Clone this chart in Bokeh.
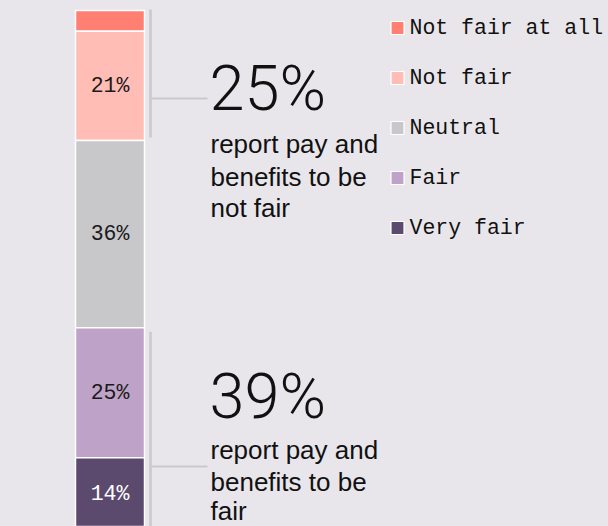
from bokeh.plotting import figure
from bokeh.models import Range1d, ColumnDataSource, GlobalInlineStyleSheet
from bokeh.core.properties import value
from bokeh.embed import file_html
from bokeh.resources import INLINE

# ---- data ----
categories = ["Not fair at all", "Not fair", "Neutral", "Fair", "Very fair"]
shares = [4, 21, 36, 25, 14]
colors = ["#ff7f72", "#ffbdb6", "#c8c8ca", "#bfa2c7", "#5b4a6e"]
label_colors = ["#1a1a1a", "#1a1a1a", "#1a1a1a", "#1a1a1a", "#ffffff"]
min_label_share = 10
group_text = ["report pay and", "benefits to be", "not fair"]
group_text2 = ["report pay and", "benefits to be", "fair"]

BG = "#e8e6eb"
MONO = value("Liberation Mono")
SANS = value("Liberation Sans")
BIG = value("Roboto Light, Roboto, Liberation Sans")

W, H = 608, 526
PX_PER_PCT = 5.2
TOP_PX = 10

# cumulative stacking (top -> bottom)
tops, bottoms = [], []
acc = 0
for s in shares:
    tops.append(acc)
    acc += s
    bottoms.append(acc)
mids = [(t + b) / 2 for t, b in zip(tops, bottoms)]
labels = [f"{s}%" if s >= min_label_share else "" for s in shares]

not_fair_total = shares[0] + shares[1]
fair_total = shares[3] + shares[4]

p = figure(width=W, height=H, output_backend="svg", toolbar_location=None,
           x_range=Range1d(0, W),
           y_range=Range1d((H - TOP_PX) / PX_PER_PCT, -TOP_PX / PX_PER_PCT),
           min_border=0, background_fill_color=BG, border_fill_color=BG,
           outline_line_color=None)
p.axis.visible = False
p.grid.visible = False
p.extra_y_ranges = {"px": Range1d(H, 0)}

src = ColumnDataSource(dict(cat=categories, top=tops, bottom=bottoms, color=colors,
                            mid=mids, label=labels, lcolor=label_colors,
                            x=[109.5] * len(shares)))

p.vbar(x="x", width=69, top="top", bottom="bottom", fill_color="color",
       line_color="white", line_width=1.5, source=src)
p.text(x="x", y="mid", text="label", text_color="lcolor", text_font=MONO,
       text_font_size="21.5px", text_align="center", text_baseline="middle", source=src)

# brackets
LINE = "#c9c9cc"
p.segment(x0=[150, 150], x1=[150, 150],
          y0=[tops[0] - 0.2, tops[3] + 0.8], y1=[bottoms[1] - 0.6, bottoms[4] + 2],
          line_color=LINE, line_width=2.5)
p.segment(x0=[151, 151], x1=[207, 207], y0=[98, 466], y1=[98, 466],
          line_color=LINE, line_width=2, y_range_name="px")

# big numbers
p.text(x=[209, 209], y=[88, 396], text=[f"{not_fair_total}%", f"{fair_total}%"],
       text_font=BIG, text_font_size="63px", text_color="#111111",
       text_baseline="alphabetic", y_range_name="px")
p.text(x=[210] * 3, y=[143, 176, 207], text=group_text, text_font=SANS,
       text_font_size="26px", text_color="#111111", text_baseline="alphabetic",
       y_range_name="px")
p.text(x=[210] * 3, y=[449, 481, 510], text=group_text2, text_font=SANS,
       text_font_size="26px", text_color="#111111", text_baseline="alphabetic",
       y_range_name="px")

# legend
ly = [27.5 + 50 * i for i in range(len(categories))]
p.scatter(x=[397] * len(categories), y=ly, marker="square", size=13,
          fill_color=colors, line_color="white", line_width=1.2, y_range_name="px")
p.text(x=[409] * len(categories), y=[v - 0.5 for v in ly], text=categories,
       text_font=MONO, text_font_size="21.5px", text_color="#111111",
       text_baseline="alphabetic", y_range_name="px")

p.stylesheets = [GlobalInlineStyleSheet(css=f"html, body {{ background-color: {BG}; }}")]

open("out.html", "w").write(file_html(p, INLINE))
